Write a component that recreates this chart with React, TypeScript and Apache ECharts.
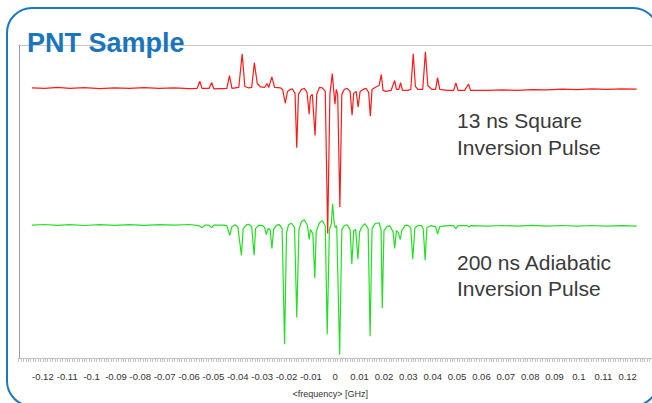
import React, { useEffect, useRef } from "react";
import * as echarts from "echarts";

// Frequencies in GHz, intensities in arbitrary units (offset traces)
const redFreq = [
  -0.1245, -0.1192, -0.1139, -0.109, -0.1029, -0.0967, -0.0906, -0.0845, -0.0784, -0.0722, -0.0661, -0.06,
  -0.0567, -0.0556, -0.0547, -0.0518, -0.0507, -0.0498, -0.0445, -0.0434, -0.0424, -0.0396, -0.0382, -0.0371,
  -0.0355, -0.0343, -0.0332, -0.032, -0.0306, -0.029, -0.028, -0.0273, -0.026, -0.0249, -0.0224, -0.0216,
  -0.0205, -0.0196, -0.0184, -0.0176, -0.0165, -0.0158, -0.0151, -0.0139, -0.0127, -0.0116, -0.0107, -0.0102,
  -0.0094, -0.0083, -0.0076, -0.0065, -0.0053, -0.0041, -0.0031, -0.0022, -0.0012, -0.0006, -0.0001, 0.0004,
  0.001, 0.0019, 0.0027, 0.0037, 0.0049, 0.0061, 0.0069, 0.0076, 0.0086, 0.0094, 0.0102, 0.0114,
  0.0127, 0.0137, 0.0144, 0.0151, 0.0163, 0.018, 0.0189, 0.0196, 0.0208, 0.0229, 0.0244, 0.0251,
  0.0261, 0.0268, 0.0276, 0.0298, 0.031, 0.032, 0.0329, 0.0339, 0.0359, 0.037, 0.038, 0.0396,
  0.0412, 0.042, 0.0429, 0.0461, 0.0486, 0.0495, 0.0504, 0.0531, 0.0547, 0.0555, 0.0624, 0.0686,
  0.0747, 0.0808, 0.0869, 0.0931, 0.0992, 0.1053, 0.1114, 0.1176, 0.1237,
];
const redVal = [
  273.5, 273, 274, 273, 273.8, 272.8, 273.5, 273, 273.8, 273, 273.5, 272.8,
  273, 280.3, 273, 273, 279, 272.5, 273, 286, 273, 274, 308, 275,
  273.5, 274, 299, 278, 274.5, 274, 278, 274, 284.7, 274, 273.5, 272,
  258, 270, 272, 272.5, 268, 213, 267, 272, 273, 269, 247, 265,
  267, 225.3, 267, 274, 273.5, 270, 126, 267, 288, 270, 257, 272,
  267, 153, 267, 272, 273, 270, 246, 268, 270, 254, 270, 272,
  273, 269, 245, 272, 274, 276, 287, 271, 270, 271, 281, 272,
  272, 279, 271, 271, 272, 308, 275, 272, 272, 310, 276, 272,
  272, 284, 272, 271, 271, 278.5, 271, 271, 277.5, 271, 271, 271.5,
  271, 271.8, 271.5, 272.3, 271.8, 272.5, 272, 272.6, 272.3,
];

const greenFreq = [
  -0.1245, -0.1192, -0.1139, -0.109, -0.1029, -0.0967, -0.0906, -0.0845, -0.0784, -0.0722, -0.0661, -0.06,
  -0.0559, -0.0546, -0.0535, -0.0518, -0.0507, -0.0498, -0.0457, -0.0445, -0.0433, -0.0424, -0.0412, -0.04,
  -0.0385, -0.0378, -0.0363, -0.0355, -0.0343, -0.0333, -0.0327, -0.0314, -0.0298, -0.029, -0.0283, -0.0276,
  -0.0267, -0.026, -0.0253, -0.0241, -0.0229, -0.0218, -0.0208, -0.02, -0.0192, -0.018, -0.0167, -0.0158,
  -0.0149, -0.0139, -0.0127, -0.0114, -0.0107, -0.0102, -0.0092, -0.0084, -0.0078, -0.0065, -0.0053, -0.0041,
  -0.0033, -0.0024, -0.0016, -0.0011, -0.0005, 0.0, 0.0006, 0.0018, 0.0027, 0.0037, 0.0049, 0.0061,
  0.0068, 0.0076, 0.0084, 0.0093, 0.01, 0.011, 0.0122, 0.0135, 0.0143, 0.0151, 0.0163, 0.018,
  0.0188, 0.0193, 0.02, 0.0212, 0.0224, 0.0237, 0.0244, 0.0251, 0.0259, 0.0267, 0.0273, 0.0286,
  0.0298, 0.031, 0.0318, 0.0327, 0.0339, 0.0355, 0.0361, 0.0369, 0.0376, 0.0392, 0.0412, 0.042,
  0.0429, 0.0461, 0.0486, 0.0495, 0.0504, 0.0543, 0.055, 0.0555, 0.0624, 0.0686, 0.0747, 0.0808,
  0.0869, 0.0931, 0.0992, 0.1053, 0.1114, 0.1176, 0.1237,
];
const greenVal = [
  134.5, 135.2, 134.3, 135, 134.2, 135, 134.4, 135.1, 134.3, 135, 134.5, 135.2,
  134, 132, 134.5, 134.5, 132, 134.5, 134.5, 134, 124.3, 133, 135, 133,
  104, 131, 135, 135.5, 133, 104, 131, 134.5, 134, 132, 125, 131,
  130, 111, 130, 134.5, 135, 131, 14, 126, 135, 136.5, 132, 41,
  130, 138, 140, 134, 120, 130, 126, 81, 128, 137, 139, 134,
  24, 130, 136, 156.3, 138, 132, 134, 3.5, 130, 134, 135, 130,
  95.3, 129, 130, 100, 128, 133, 136, 131, 22, 131, 136, 137,
  130, 50.5, 129, 133, 134, 128, 111, 129, 127, 120, 129, 134,
  134.5, 132, 100, 132, 134, 134, 131, 99, 132, 134, 133, 125.5,
  133, 134, 134, 131, 134, 134, 132.5, 134, 133.5, 134.2, 133.6, 134.3,
  133.5, 134.2, 133.6, 134.2, 133.5, 134.1, 133.6,
];

const xMin = -0.13;
const xMax = 0.13;
const xStep = 0.01;
const titleText = "PNT Sample";
const redLabel = ["13 ns Square", "Inversion Pulse"];
const greenLabel = ["200 ns Adiabatic", "Inversion Pulse"];
const axisName = "<frequency> [GHz]";

const FONT = "'Liberation Sans', Arial, Helvetica, sans-serif";

export default function App() {
  const ref = useRef<HTMLDivElement>(null);
  useEffect(() => {
    if (!ref.current) return;
    const chart = echarts.init(ref.current, undefined, { renderer: "svg" });
    const red = redFreq.map((f, i) => [f, redVal[i]]);
    const green = greenFreq.map((f, i) => [f, greenVal[i]]);
    const textEl = (t: string, x: number, y: number, size: number, fill: string, weight = "normal") => ({
      type: "text",
      z: 100,
      x,
      y,
      style: {
        text: t,
        fill,
        font: `${weight} ${size}px ${FONT}`,
        textAlign: "left",
        textVerticalAlign: "middle",
        align: "left",
        verticalAlign: "middle",
      },
    });
    chart.setOption({
      animation: false,
      backgroundColor: "#ffffff",
      grid: { left: 18.5, right: -3.5, top: 45, bottom: 41, containLabel: false },
      xAxis: [
        {
          type: "value",
          min: xMin,
          max: xMax,
          interval: xStep,
          position: "bottom",
          name: axisName,
          nameLocation: "middle",
          nameGap: 31,
          nameTextStyle: { fontSize: 9, color: "#333", fontFamily: FONT, padding: [0, 10, 0, 0] },
          axisLine: { show: true, onZero: false, lineStyle: { color: "#bdbdbd", width: 1 } },
          axisTick: { show: true, length: 4, lineStyle: { color: "#c4c4c4" } },
          minorTick: { show: true, splitNumber: 10, length: 4, lineStyle: { color: "#c4c4c4" } },
          splitLine: { show: false },
          axisLabel: {
            fontSize: 9.5,
            color: "#333",
            fontFamily: FONT,
            margin: 13,
            showMinLabel: false,
            showMaxLabel: false,
            formatter: (v: number) => String(Math.round(v * 100) / 100),
          },
        },
        {
          type: "value",
          min: xMin,
          max: xMax,
          position: "top",
          axisLine: { show: true, onZero: false, lineStyle: { color: "#c8c8c8", width: 1 } },
          axisTick: { show: false },
          axisLabel: { show: false },
          splitLine: { show: false },
        },
      ],
      yAxis: {
        type: "value",
        min: 0,
        max: 317,
        position: "left",
        offset: -1,
        axisLine: { show: true, onZero: false, lineStyle: { color: "#9a9a9a", width: 1 } },
        axisTick: { show: false },
        axisLabel: { show: false },
        splitLine: { show: false },
      },
      series: [
        {
          type: "line",
          data: green,
          showSymbol: false,
          symbol: "none",
          lineStyle: { color: "#22e022", width: 1.2 },
          z: 2,
        },
        {
          type: "line",
          data: red,
          showSymbol: false,
          symbol: "none",
          lineStyle: { color: "#ff1a1a", width: 1.2 },
          z: 3,
        },
      ],
      graphic: [
        {
          type: "rect",
          z: 90,
          shape: { x: 7, y: 8, width: 651, height: 398, r: 25 },
          style: { fill: "none", stroke: "#1a78c2", lineWidth: 2 },
        },
        textEl(titleText, 27, 43, 27, "#1b75bc", "bold"),
        textEl(redLabel[0], 457, 120, 21, "#3a3a3a"),
        textEl(redLabel[1], 457, 147, 21, "#3a3a3a"),
        textEl(greenLabel[0], 457, 262, 21, "#3a3a3a"),
        textEl(greenLabel[1], 457, 288, 21, "#3a3a3a"),
      ],
    });
    return () => chart.dispose();
  }, []);
  return (
    <div
      ref={ref}
      style={{ position: "fixed", left: 0, top: 0, width: 652, height: 403, background: "#fff" }}
    />
  );
}
